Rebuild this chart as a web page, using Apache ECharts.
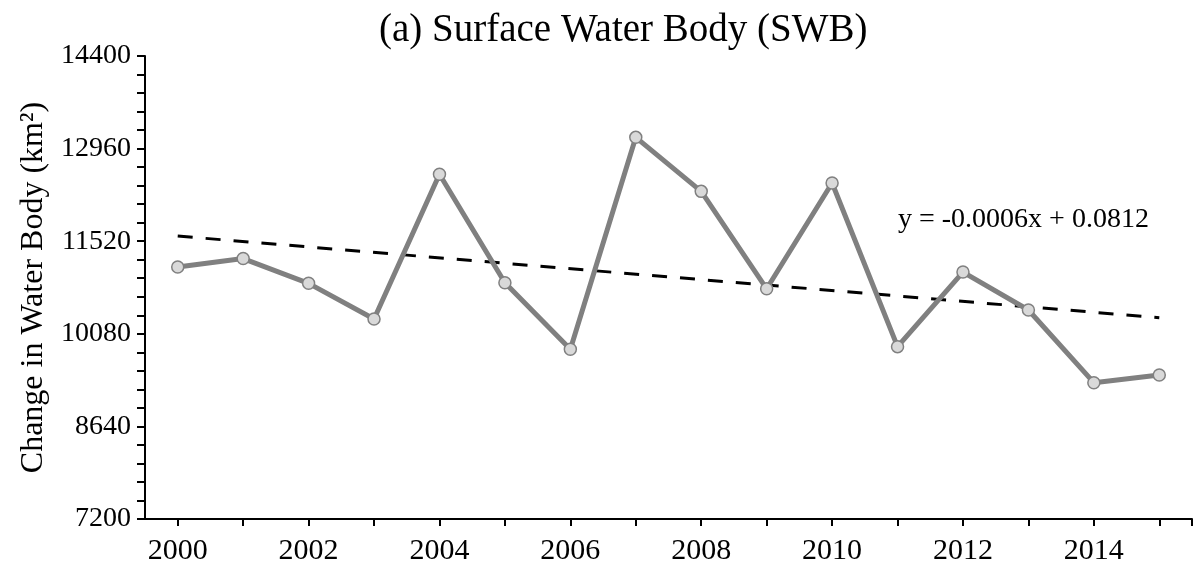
<!DOCTYPE html>
<html>
<head>
<meta charset="utf-8">
<script src="https://cdn.jsdelivr.net/npm/echarts@6/dist/echarts.min.js"></script>
<style>html,body{margin:0;padding:0;background:#fff;}#c{width:1200px;height:579px;}</style>
</head>
<body>
<div id="c"></div>
<script>
var years = [2000, 2001, 2002, 2003, 2004, 2005, 2006, 2007, 2008, 2009, 2010, 2011, 2012, 2013, 2014, 2015];
var swbValues = [11120, 11250, 10865, 10310, 12560, 10875, 9840, 13135, 12295, 10780, 12425, 9880, 11040, 10450, 9320, 9440];
var trendYears = [2000, 2015];
var trendValues = [11600, 10330];
var xLabelYears = [2000, 2002, 2004, 2006, 2008, 2010, 2012, 2014];
var xTickYears = years.concat([2015.5]);
var yTicks = [7200, 8640, 10080, 11520, 12960, 14400];
var titleText = '(a) Surface Water Body (SWB)';
var yAxisName = 'Change in Water Body (km\u00B2)';
var equationText = 'y = -0.0006x + 0.0812';

var FONT = '"Liberation Serif", "Times New Roman", serif';
var chart = echarts.init(document.getElementById('c'), null, {renderer: 'canvas'});
chart.setOption({
  backgroundColor: '#ffffff',
  animation: false,
  title: {
    text: titleText,
    left: 374,
    top: 6,
    textStyle: {fontFamily: FONT, fontSize: 39, fontWeight: 'normal', color: '#000'}
  },
  grid: {left: 145, right: 8, top: 56, bottom: 60, containLabel: false},
  xAxis: {
    type: 'value',
    min: 1999.5,
    max: 2015.5,
    splitLine: {show: false},
    axisLine: {show: true, onZero: false, lineStyle: {color: '#000', width: 2}},
    axisTick: {show: true, inside: false, length: 7, customValues: xTickYears, lineStyle: {color: '#000', width: 2}},
    axisLabel: {customValues: xLabelYears, margin: 17, fontFamily: FONT, fontSize: 30, color: '#000',
      formatter: function (v) { return String(Math.round(v)); }}
  },
  yAxis: {
    type: 'value',
    min: yTicks[0],
    max: yTicks[yTicks.length - 1],
    interval: 1440,
    name: yAxisName,
    nameLocation: 'middle',
    nameGap: 95,
    nameTextStyle: {fontFamily: FONT, fontSize: 32, color: '#000'},
    splitLine: {show: false},
    axisLine: {show: true, lineStyle: {color: '#000', width: 2}},
    axisTick: {show: true, inside: false, length: 8, lineStyle: {color: '#000', width: 2}},
    minorTick: {show: true, splitNumber: 5, length: 8, lineStyle: {color: '#000', width: 2}},
    minorSplitLine: {show: false},
    axisLabel: {margin: 14, fontFamily: FONT, fontSize: 28, color: '#000',
      formatter: function (v) { return String(v); }}
  },
  graphic: [{
    type: 'text',
    left: 898,
    top: 206,
    style: {text: equationText, fontFamily: FONT, fontSize: 28, fill: '#000'}
  }],
  series: [
    {
      type: 'line',
      data: trendYears.map(function (y, i) { return [y, trendValues[i]]; }),
      symbol: 'none',
      lineStyle: {color: '#000', width: 3, type: [15, 13]},
      z: 2,
      silent: true
    },
    {
      type: 'line',
      data: years.map(function (y, i) { return [y, swbValues[i]]; }),
      symbol: 'circle',
      symbolSize: 12,
      lineStyle: {color: '#808080', width: 5},
      itemStyle: {color: '#d9d9d9', borderColor: '#808080', borderWidth: 1.5},
      z: 3
    }
  ]
});
</script>
</body>
</html>
